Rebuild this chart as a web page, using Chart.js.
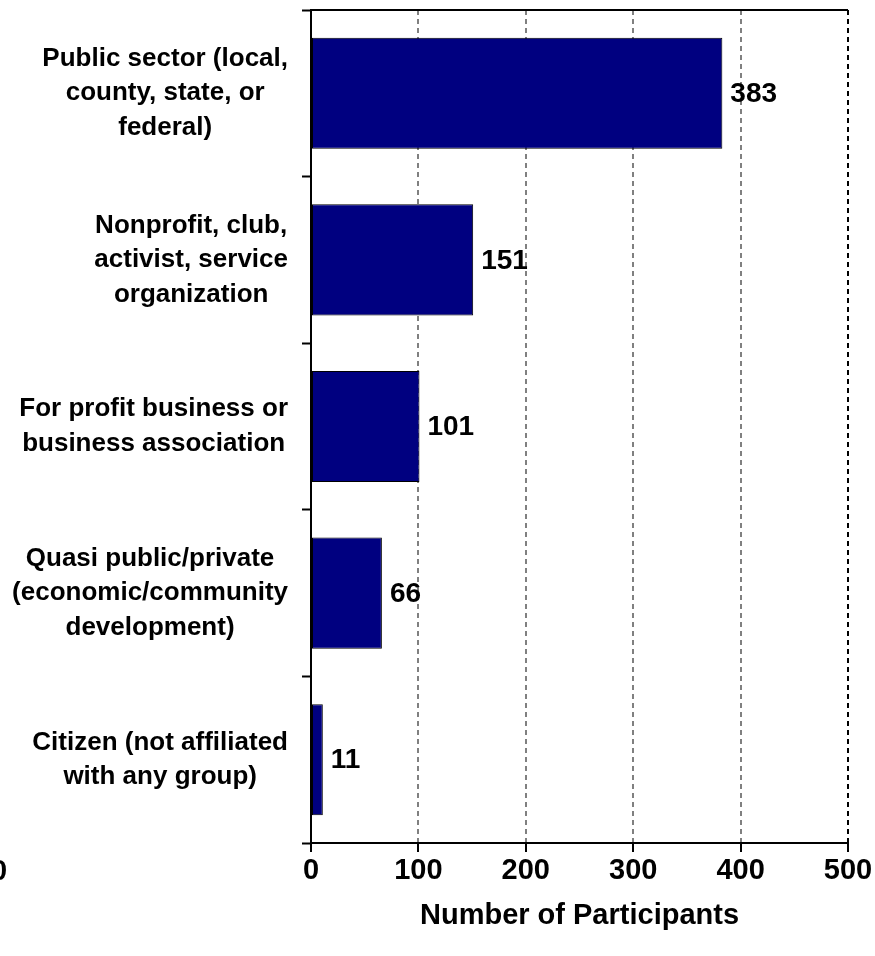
<!DOCTYPE html>
<html>
<head>
<meta charset="utf-8">
<title>Participants by sector</title>
<script src="https://cdn.jsdelivr.net/npm/chart.js@4.4.1/dist/chart.umd.min.js"></script>
<style>
  body { margin: 0; background: #fff; }
  #wrap { position: relative; width: 875px; height: 956px; overflow: hidden; }
  #stray { position: absolute; left: -9px; top: 854px; font: bold 29px Arial, "Liberation Sans", sans-serif; color: #000; }
</style>
</head>
<body>
<div id="wrap">
  <canvas id="myChart"></canvas>
  <div id="stray">0</div>
</div>
<script>
const sectors = [
    ['Public sector (local,', 'county, state, or', 'federal)'],
    ['Nonprofit, club,', 'activist, service', 'organization'],
    ['For profit business or', 'business association'],
    ['Quasi public/private', '(economic/community', 'development)'],
    ['Citizen (not affiliated', 'with any group)']
]
const participants = [383, 151, 101, 66, 11]
const xTicks = [0, 100, 200, 300, 400, 500]
const axisTitle = 'Number of Participants'

const fontFamily = 'Arial, "Liberation Sans", sans-serif'
Chart.defaults.font.family = fontFamily
Chart.defaults.color = '#000'

// value printed just past the end of each bar
const barValues = {
    id: 'barValues',
    afterDatasetsDraw(chart) {
        const ctx = chart.ctx
        const meta = chart.getDatasetMeta(0)
        ctx.save()
        ctx.font = 'bold 28px ' + fontFamily
        ctx.fillStyle = '#000'
        ctx.textAlign = 'left'
        ctx.textBaseline = 'middle'
        meta.data.forEach((bar, i) => {
            ctx.fillText(participants[i], bar.x + 8, bar.y + 1)
        })
        ctx.restore()
    }
}

// category names: each block right-aligned to the axis, lines centred inside it
const sectorLabels = {
    id: 'sectorLabels',
    afterDraw(chart) {
        const ctx = chart.ctx
        const y = chart.scales.y
        const lineH = 34.5
        const rightEdge = y.right - 23
        ctx.save()
        ctx.font = 'bold 26px ' + fontFamily
        ctx.fillStyle = '#000'
        ctx.textAlign = 'center'
        ctx.textBaseline = 'middle'
        sectors.forEach((lines, i) => {
            const blockW = Math.max(...lines.map(l => ctx.measureText(l).width))
            const cx = rightEdge - blockW / 2
            const cy = y.getPixelForTick(i)
            lines.forEach((line, j) => {
                ctx.fillText(line, cx, cy + (j - (lines.length - 1) / 2) * lineH)
            })
        })
        ctx.restore()
    }
}

// top edge of the plot frame
const frameTop = {
    id: 'frameTop',
    afterDraw(chart) {
        const {ctx, chartArea} = chart
        ctx.save()
        ctx.strokeStyle = '#000'
        ctx.lineWidth = 2
        ctx.beginPath()
        ctx.moveTo(chartArea.left, chartArea.top)
        ctx.lineTo(chartArea.right, chartArea.top)
        ctx.stroke()
        ctx.restore()
    }
}

var ctx = document.getElementById('myChart').getContext('2d');
var myChart = new Chart(ctx, {
    type: 'bar',
    data: {
        labels: sectors,
        datasets: [{
            data: participants,
            backgroundColor: '#000080',
            borderColor: '#000',
            borderWidth: 1,
            borderSkipped: false,
            categoryPercentage: 0.667,
            barPercentage: 1
        }]
    },
    options: {
        indexAxis: 'y',
        responsive: true,
        maintainAspectRatio: false,
        animation: false,
        layout: {
            padding: { top: 10, right: 27, left: 0, bottom: 0 }
        },
        plugins: {
            legend: { display: false },
            tooltip: { enabled: false }
        },
        scales: {
            x: {
                min: xTicks[0],
                max: xTicks[xTicks.length - 1],
                afterBuildTicks: scale => {
                    scale.ticks = xTicks.map(v => ({ value: v }))
                },
                afterFit: scale => { scale.height = 113 },
                ticks: {
                    padding: 2,
                    font: { size: 29, weight: 'bold' },
                    color: '#000'
                },
                grid: {
                    color: c => {
                        if (!c.tick || c.tick.value === xTicks[0]) return 'rgba(0,0,0,0)'
                        return c.tick.value === xTicks[xTicks.length - 1] ? '#000' : '#808080'
                    },
                    lineWidth: 2,
                    tickColor: '#000',
                    tickWidth: 2,
                    tickLength: 9
                },
                border: { color: '#000', width: 2, dash: [5, 4] },
                title: {
                    display: true,
                    text: axisTitle,
                    font: { size: 29, weight: 'bold' },
                    color: '#000',
                    padding: { top: 4, bottom: 23 }
                }
            },
            y: {
                afterFit: scale => { scale.width = 311 },
                ticks: { display: false },
                grid: {
                    offset: true,
                    drawOnChartArea: false,
                    tickColor: '#000',
                    tickWidth: 2,
                    tickLength: 9
                },
                border: { color: '#000', width: 2 }
            }
        }
    },
    plugins: [barValues, sectorLabels, frameTop]
});
</script>
</body>
</html>
